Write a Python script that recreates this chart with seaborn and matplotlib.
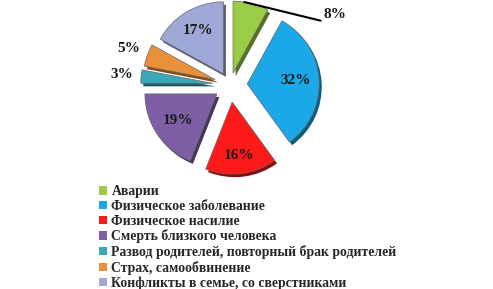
import numpy as np
import matplotlib
matplotlib.use("Agg")
import matplotlib.pyplot as plt
import matplotlib.colors as mcolors
from matplotlib.patches import Patch
import seaborn as sns

categories = [
    "Аварии",
    "Физическое заболевание",
    "Физическое насилие",
    "Смерть близкого человека",
    "Развод родителей, повторный брак родителей",
    "Страх, самообвинение",
    "Конфликты в семье, со сверстниками",
]
values = [8, 32, 16, 19, 3, 5, 17]
pct_labels = ["8%", "32%", "16%", "19%", "3%", "5%", "17%"]
colors = ["#9acd46", "#1aa8e8", "#ff1a1a", "#7e5fa6", "#3aa6b8", "#e8903a", "#a0a8d8"]
explode_frac = [0.17, 0.24, 0.24, 0.22, 0.24, 0.22, 0.18]

sns.set_theme(style="white")
plt.rcParams["font.family"] = ["Liberation Serif", "DejaVu Serif"]

W, H = 493, 289
fig = plt.figure(figsize=(W / 100, H / 100), dpi=100)
ax = fig.add_axes([0, 0, 1, 1])

cx, cy, R = 230, H - 85, 72
explode = [f * R for f in explode_frac]

# depth layer (darker copy, shifted down-right)
dark = [tuple(np.array(mcolors.to_rgb(c)) * 0.55) for c in colors]
ax.pie(values, colors=dark, explode=explode, startangle=90, counterclock=False,
       radius=R, center=(cx + 2.5, cy - 3), wedgeprops=dict(linewidth=0))
wedges, _ = ax.pie(values, colors=colors, explode=explode, startangle=90,
                   counterclock=False, radius=R, center=(cx, cy),
                   wedgeprops=dict(linewidth=0.5, edgecolor="#666666"))

label_f = [None, 0.67, 0.74, 0.66, 1.27, 1.28, 0.70]
for w, lab, f in zip(wedges, pct_labels, label_f):
    if f is None:
        continue
    th = np.deg2rad((w.theta1 + w.theta2) / 2)
    x = w.center[0] + f * R * np.cos(th)
    y = w.center[1] + f * R * np.sin(th)
    ax.text(x, y, lab, ha="center", va="center", fontsize=11,
            fontweight="bold", color="#1a1a1a")

# leader for 8%
g = wedges[0]
th = np.deg2rad(81)
x0 = g.center[0] + R * np.cos(th)
y0 = g.center[1] + R * np.sin(th)
ax.annotate("8%", xy=(x0, y0), xytext=(324, H - 15), ha="left", va="center",
            fontsize=11, fontweight="bold", color="#1a1a1a",
            arrowprops=dict(arrowstyle="-", color="black", lw=1.5,
                            relpos=(0, 0.0), shrinkA=0, shrinkB=0))

ax.set_xlim(0, W)
ax.set_ylim(0, H)
ax.set_aspect("equal")
ax.axis("off")

handles = [Patch(facecolor=c, edgecolor="none") for c in colors]
fig.legend(handles, categories, loc="upper left", bbox_to_anchor=(99 / W, 1 - 185.5 / H),
           frameon=False, prop=dict(family="Liberation Serif", weight="bold", size=9.9),
           handlelength=0.55, handleheight=0.55, handletextpad=0.35, labelspacing=0.12,
           borderpad=0, borderaxespad=0)

fig.savefig("out.png", dpi=100)
